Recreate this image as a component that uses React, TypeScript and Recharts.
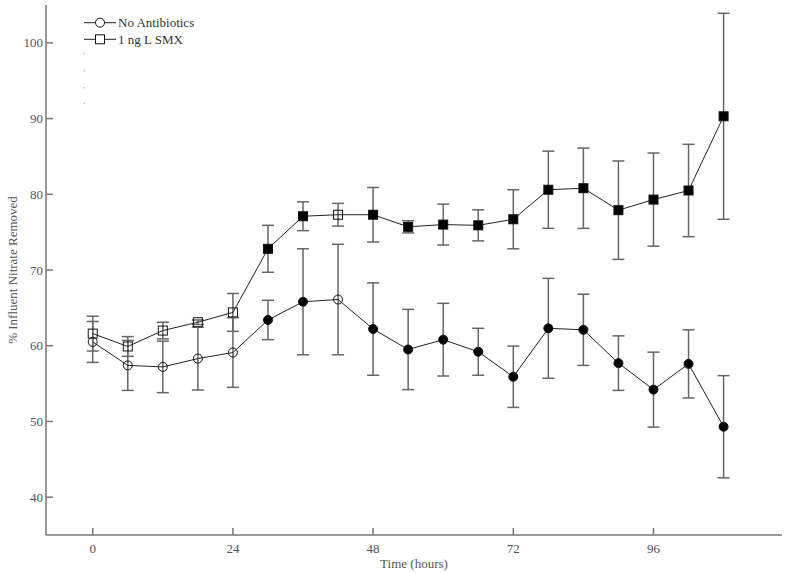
import React from "react";
import { LineChart, Line, XAxis, YAxis, ErrorBar, Legend } from "recharts";

// sampling times (hours) and mean % nitrate removed
const hours = [0, 6, 12, 18, 24, 30, 36, 42, 48, 54, 60, 66, 72, 78, 84, 90, 96, 102, 108];
const noAntibiotics = [60.5, 57.4, 57.2, 58.3, 59.1, 63.4, 65.8, 66.1, 62.2, 59.5, 60.8, 59.2, 55.9, 62.3, 62.1, 57.7, 54.2, 57.6, 49.3];
const noAntibioticsErr = [2.7, 3.3, 3.4, 4.15, 4.6, 2.6, 7.0, 7.3, 6.1, 5.3, 4.8, 3.1, 4.05, 6.6, 4.7, 3.6, 4.95, 4.5, 6.75];
const smx = [61.6, 59.9, 62.0, 63.1, 64.4, 72.8, 77.1, 77.3, 77.3, 75.7, 76.0, 75.9, 76.7, 80.6, 80.8, 77.9, 79.3, 80.5, 90.3];
const smxErr = [2.3, 1.3, 1.1, 0.3, 2.5, 3.1, 1.9, 1.5, 3.6, 0.8, 2.7, 2.05, 3.9, 5.1, 5.3, 6.5, 6.15, 6.1, 13.6];
// filled markers = significant points
const filled = [false, false, false, false, false, true, true, false, true, true, true, true, true, true, true, true, true, true, true];

const xTicks = [0, 24, 48, 72, 96];
const yTicks = [40, 50, 60, 70, 80, 90, 100];

const data = hours.map((h, i) => ({
  hour: h,
  noAbx: noAntibiotics[i],
  noAbxErr: noAntibioticsErr[i],
  smx: smx[i],
  smxErr: smxErr[i],
}));

const FONT = '"Liberation Serif", "Times New Roman", serif';
const AXIS = "#777";
const TEXT = "#555";

const CircleDot = (props: any) => {
  const { cx, cy, index } = props;
  return (
    <circle
      key={`c-${index}`}
      cx={cx}
      cy={cy}
      r={4.5}
      fill={filled[index] ? "#000" : "none"}
      stroke="#111"
      strokeWidth={1}
    />
  );
};

const SquareDot = (props: any) => {
  const { cx, cy, index } = props;
  return (
    <rect
      key={`s-${index}`}
      x={cx - 4.5}
      y={cy - 4.5}
      width={9}
      height={9}
      fill={filled[index] ? "#000" : "none"}
      stroke="#111"
      strokeWidth={1}
    />
  );
};

const renderLegend = () => (
  <svg width={130} height={100} style={{ display: "block" }}>
    <line x1={4} y1={10.7} x2={36} y2={10.7} stroke="#222" strokeWidth={1} />
    <circle cx={20} cy={10.7} r={4.5} fill="#fff" stroke="#111" strokeWidth={1} />
    <text x={38} y={15.2} fontSize={13} fontFamily={FONT} fill="#333">
      No Antibiotics
    </text>
    <line x1={4} y1={27.3} x2={36} y2={27.3} stroke="#222" strokeWidth={1} />
    <rect x={15.5} y={22.8} width={9} height={9} fill="#fff" stroke="#111" strokeWidth={1} />
    <text x={38} y={31.8} fontSize={13} fontFamily={FONT} fill="#333">
      1 ng L SMX
    </text>
    {[41.3, 58.7, 75.7, 91.3].map((y) => (
      <circle key={y} cx={4.3} cy={y} r={0.7} fill="#aaa" />
    ))}
  </svg>
);

const YTitle = (props: any) => {
  const { viewBox } = props;
  const x = viewBox.x + 12;
  const y = viewBox.y + viewBox.height / 2;
  return (
    <text
      x={x}
      y={y}
      transform={`rotate(-90 ${x} ${y})`}
      textAnchor="middle"
      dominantBaseline="central"
      fontSize={13}
      fontFamily={FONT}
      fill={TEXT}
    >
      % Influent Nitrate Removed
    </text>
  );
};

export default function App() {
  return (
    <div style={{ position: "absolute", left: 0, top: 0, background: "#fff" }}>
      <LineChart
        width={787}
        height={573}
        data={data}
        margin={{ top: 5, right: 5, left: 0, bottom: 0 }}
      >
        <XAxis
          xAxisId="b"
          dataKey="hour"
          type="number"
          domain={[-8, 118]}
          ticks={xTicks}
          allowDataOverflow
          height={38}
          stroke={AXIS}
          strokeWidth={1.5}
          tickSize={-7}
          tickMargin={16}
          tick={{ fill: TEXT, fontSize: 13, fontFamily: FONT }}
          label={{
            value: "Time (hours)",
            position: "insideBottom",
            offset: 5,
            fill: TEXT,
            fontSize: 13,
            fontFamily: FONT,
          }}
        />
        <XAxis
          xAxisId="t"
          orientation="top"
          dataKey="hour"
          type="number"
          domain={[-8, 118]}
          ticks={xTicks}
          allowDataOverflow
          height={0}
          stroke={AXIS}
          strokeWidth={1.5}
          tickSize={-7}
          tickFormatter={() => ""}
        />
        <YAxis
          yAxisId="l"
          type="number"
          domain={[35, 105]}
          ticks={yTicks}
          allowDataOverflow
          width={46}
          stroke={AXIS}
          strokeWidth={1.5}
          tickSize={-7}
          tickMargin={10}
          tick={{ fill: TEXT, fontSize: 13, fontFamily: FONT }}
          label={{ content: YTitle }}
        />
        <YAxis
          yAxisId="r"
          orientation="right"
          type="number"
          domain={[35, 105]}
          ticks={yTicks}
          allowDataOverflow
          width={0}
          stroke={AXIS}
          strokeWidth={1.5}
          tickSize={-7}
          tickFormatter={() => ""}
        />
        <Legend
          content={renderLegend}
          layout="vertical"
          align="center"
          verticalAlign="middle"
          wrapperStyle={{ position: "absolute", left: 80, top: 12, width: 130 }}
        />
        <Line
          xAxisId="b"
          yAxisId="l"
          dataKey="noAbx"
          name="No Antibiotics"
          stroke="#222"
          strokeWidth={1}
          dot={CircleDot}
          activeDot={false}
          isAnimationActive={false}
        >
          <ErrorBar dataKey="noAbxErr" direction="y" width={6} stroke="#666" strokeWidth={1.5} isAnimationActive={false} />
        </Line>
        <Line
          xAxisId="b"
          yAxisId="l"
          dataKey="smx"
          name="1 ng L SMX"
          stroke="#222"
          strokeWidth={1}
          dot={SquareDot}
          activeDot={false}
          isAnimationActive={false}
        >
          <ErrorBar dataKey="smxErr" direction="y" width={6} stroke="#666" strokeWidth={1.5} isAnimationActive={false} />
        </Line>
      </LineChart>
    </div>
  );
}
